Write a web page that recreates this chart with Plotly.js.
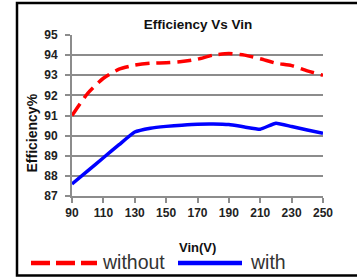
<!DOCTYPE html>
<html>
<head>
<meta charset="utf-8">
<script src="https://cdn.plot.ly/plotly-3.0.1.min.js"></script>
<style>
html,body{margin:0;padding:0;background:#fff;}
#chart{width:357px;height:277px;}
</style>
</head>
<body>
<div id="chart"></div>
<script>
const vin = [90, 100, 110, 120, 130, 140, 150, 160, 170, 180, 190, 200, 210, 220, 230, 240, 250];
const withoutEff = [91.0, 92.1, 92.85, 93.3, 93.5, 93.6, 93.62, 93.68, 93.8, 94.0, 94.08, 94.0, 93.82, 93.6, 93.48, 93.22, 93.0];
const withEff = [87.6, 88.25, 88.9, 89.55, 90.18, 90.37, 90.46, 90.52, 90.57, 90.58, 90.55, 90.43, 90.32, 90.62, 90.45, 90.28, 90.12];
const xTicks = [90, 110, 130, 150, 170, 190, 210, 230, 250];
const yTicks = [87, 88, 89, 90, 91, 92, 93, 94, 95];
const seriesNames = ['without', 'with'];

const W = 357, H = 277;
const m = {l: 72, r: 34, t: 35, b: 81};
const pw = W - m.l - m.r, ph = H - m.t - m.b;
const px = p => (p - m.l) / pw;
const py = p => (H - m.b - p) / ph;

const gray = '#8c8c8c';
const fontFam = 'Liberation Sans, Arial, sans-serif';

const traces = [
  {x: vin, y: withoutEff, name: seriesNames[0], mode: 'lines', cliponaxis: false,
   line: {color: '#ff0000', width: 3.5, dash: '14px,7px', shape: 'spline', smoothing: 0.6}},
  {x: vin, y: withEff, name: seriesNames[1], mode: 'lines', cliponaxis: false,
   line: {color: '#0000ff', width: 3.5, shape: 'spline', smoothing: 0.4}}
];

const layout = {
  width: W, height: H,
  margin: m,
  paper_bgcolor: '#ffffff', plot_bgcolor: '#ffffff',
  showlegend: false,
  title: {text: '<b>Efficiency Vs Vin</b>', x: 198 / W, xanchor: 'center', y: 1 - 24 / H, yanchor: 'middle',
          font: {family: fontFam, size: 13.5, color: '#111'}},
  xaxis: {range: [90, 250], tickvals: xTicks, ticktext: xTicks.map(v => '<b>' + v + '</b>'), showgrid: false,
          showline: true, linecolor: gray, linewidth: 2, ticks: 'outside', ticklen: 5, tickwidth: 2, tickcolor: gray,
          tickfont: {family: fontFam, size: 12, color: '#222'}, zeroline: false, fixedrange: true},
  yaxis: {range: [87, 95], tickvals: yTicks, ticktext: yTicks.map(v => '<b>' + v + '</b>'), showgrid: true, gridcolor: gray, gridwidth: 2,
          showline: true, linecolor: gray, linewidth: 2, ticks: 'outside', ticklen: 5, tickwidth: 2, tickcolor: gray,
          ticklabelstandoff: 5,
          tickfont: {family: fontFam, size: 12, color: '#222'}, zeroline: false, fixedrange: true},
  annotations: [
    {text: '<b>Efficiency%</b>', xref: 'paper', yref: 'paper', x: px(31), y: py(133.5), textangle: -90,
     showarrow: false, xanchor: 'center', yanchor: 'middle', font: {family: fontFam, size: 14, color: '#111'}},
    {text: '<b>Vin(V)</b>', xref: 'paper', yref: 'paper', x: px(197), y: py(247),
     showarrow: false, xanchor: 'center', yanchor: 'middle', font: {family: fontFam, size: 13, color: '#111'}},
    {text: seriesNames[0], xref: 'paper', yref: 'paper', x: px(100), y: py(262),
     showarrow: false, xanchor: 'left', yanchor: 'middle', font: {family: fontFam, size: 19.5, color: '#333'}},
    {text: seriesNames[1], xref: 'paper', yref: 'paper', x: px(248), y: py(262),
     showarrow: false, xanchor: 'left', yanchor: 'middle', font: {family: fontFam, size: 19.5, color: '#333'}}
  ],
  shapes: [
    {type: 'rect', xref: 'paper', yref: 'paper', x0: px(17), x1: px(360), y0: py(275.5), y1: py(3),
     line: {color: '#000', width: 2.5}, fillcolor: 'rgba(0,0,0,0)'},
    {type: 'line', xref: 'paper', yref: 'paper', x0: px(31), x1: px(97), y0: py(263), y1: py(263),
     line: {color: '#ff0000', width: 4.5, dash: '19px,6px'}},
    {type: 'line', xref: 'paper', yref: 'paper', x0: px(178), x1: px(242), y0: py(263), y1: py(263),
     line: {color: '#0000ff', width: 4.5}}
  ]
};

Plotly.newPlot('chart', traces, layout, {staticPlot: true, displayModeBar: false});
</script>
</body>
</html>
